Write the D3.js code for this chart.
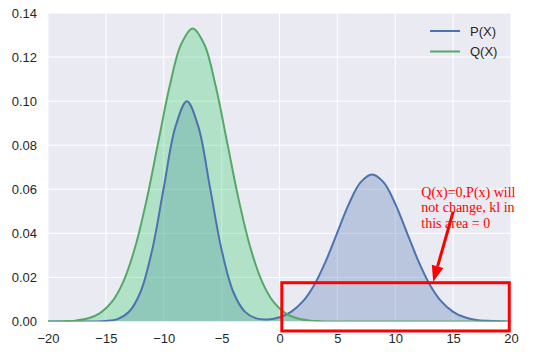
<!DOCTYPE html>
<html>
<head>
<meta charset="utf-8">
<script src="https://cdn.jsdelivr.net/npm/d3@7"></script>
<style>
  body { margin: 0; background: #fff; }
  svg { display: block; }
</style>
</head>
<body>
<div id="chart"></div>
<script>
// values
const pXs = d3.range(-20, 21);          // P sampled at whole numbers
const pValues = [0, 0, 0, 0.000004, 0.00003, 0.00022, 0.0011, 0.0044, 0.0135, 0.0325,
    0.0607, 0.0882, 0.1, 0.0882, 0.0607, 0.0325, 0.0135, 0.0045, 0.0014, 0.00096,
    0.0019, 0.0044, 0.009, 0.0166, 0.0274, 0.0405, 0.0534, 0.0631, 0.0667, 0.0631,
    0.0534, 0.0405, 0.0274, 0.0166, 0.009, 0.0044, 0.0019, 0.0007, 0.0003, 0.0001, 0];
const qXs = d3.range(-20.5, 20, 1);     // Q sampled at half numbers (peak at -7.5)
const qValues = [0.000012, 0.000045, 0.00016, 0.00051, 0.00148, 0.0038, 0.00874, 0.018, 0.0332, 0.0547,
    0.0807, 0.1065, 0.1258, 0.133, 0.1258, 0.1065, 0.0807, 0.0547, 0.0332, 0.018,
    0.00874, 0.0038, 0.00148, 0.00051, 0.00016, 0.000045, 0.000012, 0, 0, 0,
    0, 0, 0, 0, 0, 0, 0, 0, 0, 0, 0];
const xTicks = [-20, -15, -10, -5, 0, 5, 10, 15, 20];
const yTicks = [0, 0.02, 0.04, 0.06, 0.08, 0.10, 0.12, 0.14];
const seriesNames = ["P(X)", "Q(X)"];
const noteLines = ["Q(x)=0,P(x) will", "not change, kl in", "this area = 0"];

const W = 537, H = 355;
const margin = {top: 13, right: 26, bottom: 33.5, left: 48};
const width = W - margin.left - margin.right;
const height = H - margin.top - margin.bottom;

const svg = d3.select("#chart").append("svg")
    .attr("width", W)
    .attr("height", H);

const g = svg.append("g")
    .attr("transform", `translate(${margin.left},${margin.top})`);

g.append("clipPath")
    .attr("id", "plot-clip")
    .append("rect")
    .attr("width", width)
    .attr("height", height);

const x = d3.scaleLinear().domain([-20, 20]).range([0, width]);
const y = d3.scaleLinear().domain([0, 0.14]).range([height, 0]);

g.append("rect")
    .attr("width", width)
    .attr("height", height)
    .attr("fill", "#EAEAF2");

// grid
g.selectAll("line.vgrid")
    .data(xTicks)
    .enter()
    .append("line")
    .attr("class", "vgrid")
    .attr("x1", d => x(d)).attr("x2", d => x(d))
    .attr("y1", 0).attr("y2", height)
    .attr("stroke", "#fff")
    .attr("stroke-width", 1);

g.selectAll("line.hgrid")
    .data(yTicks)
    .enter()
    .append("line")
    .attr("class", "hgrid")
    .attr("x1", 0).attr("x2", width)
    .attr("y1", d => y(d)).attr("y2", d => y(d))
    .attr("stroke", "#fff")
    .attr("stroke-width", 1);

// axes (labels only, seaborn style)
const xAxis = g.append("g")
    .attr("transform", `translate(0,${height})`)
    .call(d3.axisBottom(x).tickValues(xTicks).tickSize(0).tickPadding(12).tickFormat(d3.format("d")));
const yAxis = g.append("g")
    .call(d3.axisLeft(y).tickValues(yTicks).tickSize(0).tickPadding(11).tickFormat(d3.format(".2f")));
[xAxis, yAxis].forEach(a => {
    a.select(".domain").remove();
    a.selectAll("text")
        .attr("fill", "#262626")
        .attr("font-size", "13px")
        .attr("font-family", "Arial, 'Liberation Sans', sans-serif");
});

const pData = pXs.map((d, i) => ({x: d, y: pValues[i]}));
const qData = qXs.map((d, i) => ({x: d, y: qValues[i]}));

const area = d3.area()
    .x(d => x(d.x))
    .y0(y(0))
    .y1(d => y(d.y))
    .curve(d3.curveCatmullRom);
const line = d3.line()
    .x(d => x(d.x))
    .y(d => y(d.y))
    .curve(d3.curveCatmullRom);

const plot = g.append("g").attr("clip-path", "url(#plot-clip)");

plot.append("path").datum(pData)
    .attr("d", area)
    .attr("fill", "rgb(76,114,176)")
    .attr("fill-opacity", 0.3);
plot.append("path").datum(qData)
    .attr("d", area)
    .attr("fill", "rgb(47,207,102)")
    .attr("fill-opacity", 0.3);

const colors = ["#4C72B0", "#55A868"];
[pData, qData].forEach((data, i) => {
    plot.append("path").datum(data)
        .attr("d", line)
        .attr("fill", "none")
        .attr("stroke", colors[i])
        .attr("stroke-width", 2);
});

// legend
const legend = g.append("g")
    .attr("transform", `translate(${width - 81},${18})`);
seriesNames.forEach((name, i) => {
    legend.append("line")
        .attr("x1", 0).attr("x2", 30)
        .attr("y1", i * 20.5).attr("y2", i * 20.5)
        .attr("stroke", colors[i])
        .attr("stroke-width", 2);
    legend.append("text")
        .attr("x", 40)
        .attr("y", i * 20.5)
        .attr("dy", "0.35em")
        .attr("fill", "#262626")
        .attr("font-size", "13px")
        .attr("font-family", "Arial, 'Liberation Sans', sans-serif")
        .text(name);
});

// annotation: red box + arrow + note
g.append("rect")
    .attr("x", x(0.2))
    .attr("y", y(0.0176))
    .attr("width", x(19.85) - x(0.2))
    .attr("height", y(-0.0043) - y(0.0176))
    .attr("fill", "none")
    .attr("stroke", "#ff0000")
    .attr("stroke-width", 3);

const note = g.append("text")
    .attr("x", x(12.25))
    .attr("y", y(0.0565))
    .attr("fill", "#ff0000")
    .attr("font-size", "14px")
    .attr("font-family", "'Liberation Serif', 'Times New Roman', serif");
noteLines.forEach((t, i) => {
    note.append("tspan")
        .attr("x", x(12.25))
        .attr("dy", i === 0 ? 0 : 15.5)
        .text(t);
});

const tail = [x(15.0), y(0.0498)], tip = [x(13.28), y(0.018)];
const dx = tip[0] - tail[0], dy = tip[1] - tail[1];
const len = Math.hypot(dx, dy);
const ux = dx / len, uy = dy / len;
const headLen = 16, headW = 6;
const base = [tip[0] - ux * headLen, tip[1] - uy * headLen];
g.append("line")
    .attr("x1", tail[0]).attr("y1", tail[1])
    .attr("x2", base[0]).attr("y2", base[1])
    .attr("stroke", "#ff0000")
    .attr("stroke-width", 3);
g.append("path")
    .attr("d", `M${tip[0]},${tip[1]}L${base[0] - uy * headW},${base[1] + ux * headW}L${base[0] + uy * headW},${base[1] - ux * headW}Z`)
    .attr("fill", "#ff0000");
</script>
</body>
</html>
